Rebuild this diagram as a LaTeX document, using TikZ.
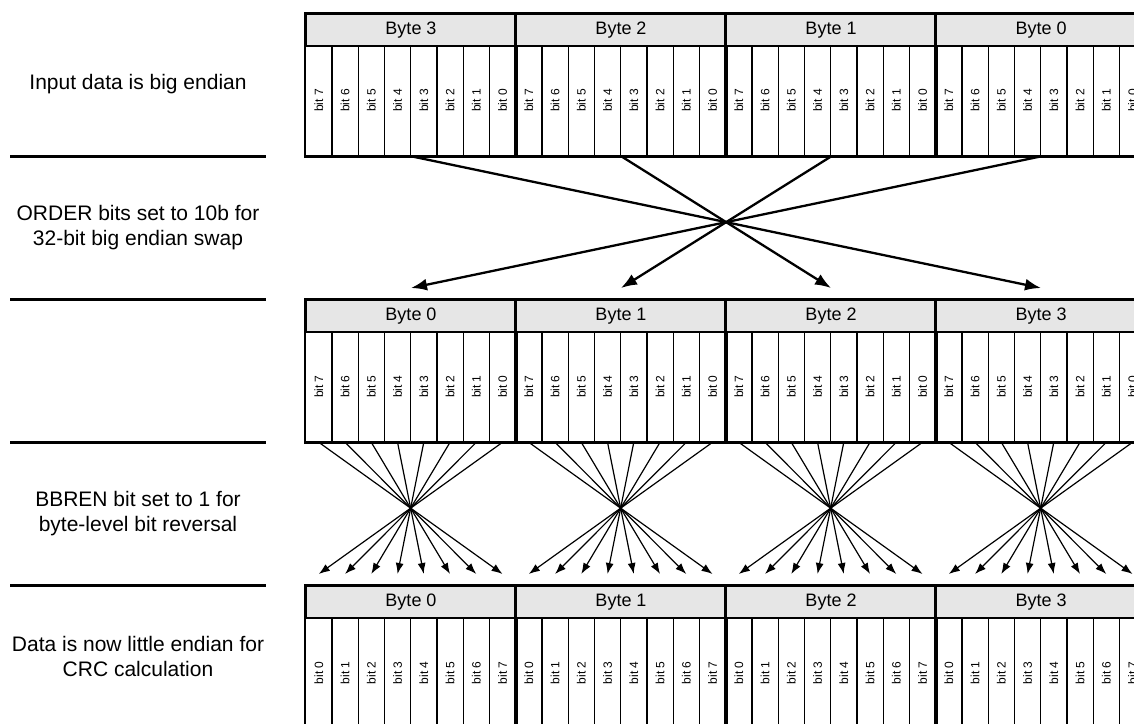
\documentclass[tikz,border=0pt]{standalone}
\usepackage{fontspec}
\setmainfont{Liberation Sans}
\usetikzlibrary{arrows.meta,calc}
\definecolor{bbhead}{HTML}{E6E6E6}
\definecolor{bbline}{HTML}{000000}
\begin{document}
\begin{tikzpicture}[
  x=1pt, y=-1pt,
  bytehead/.style={draw=bbline, fill=bbhead, line width=2pt, minimum width=210pt,
                   minimum height=32pt, inner sep=0pt, anchor=north west,
                   font=\fontsize{18}{20}\selectfont},
  bitcell/.style={draw=bbline, line width=1.3pt, minimum width=26.25pt,
                  minimum height=110pt, inner sep=0pt, anchor=north west},
  bitlab/.style={rotate=90, inner sep=0pt, font=\fontsize{12}{14}\selectfont},
  bytebox/.style={draw=bbline, line width=2.4pt},
  rowlab/.style={align=center, font=\fontsize{21}{25}\selectfont},
  sep/.style={line width=3pt},
  swap/.style={line width=2.3pt, -{Latex[length=16pt,width=12pt]}},
  fan/.style={line width=1.2pt, -{Latex[length=11pt,width=8pt]}},
]
  \useasboundingbox (0,0) rectangle (1134,723);
  \clip (0,0) rectangle (1134,723);
  \fill[white] (0,0) rectangle (1134,723);

  % ---- left column: captions and rules ---------------------------------------
  \foreach \y in {156,299,442,585}
    \draw[sep] (10,\y) -- (266,\y);
  \node[rowlab] (l1) at (138,84.5) {Input data is big endian};
  \node[rowlab] (l2) at (138,227.5) {ORDER bits set to 10b for\\32-bit big endian swap};
  \node[rowlab] (l3) at (138,513.5) {BBREN bit set to 1 for\\byte-level bit reversal};
  \node[rowlab] (l4) at (138,656.5) {Data is now little endian for\\CRC calculation};

  % ---- three registers, four bytes of eight bits -----------------------------
  \foreach \r/\ty/\flip in {1/13/1, 2/299/0, 3/585/0} {
    \foreach \p in {0,...,3} {
      \pgfmathtruncatemacro\bytenum{\flip==1 ? 3-\p : \p}
      \node[bytehead] (h\r-\p) at ({305+210*\p},\ty) {Byte \bytenum};
      \foreach \q in {0,...,7} {
        \pgfmathtruncatemacro\bitnum{\r==3 ? \q : 7-\q}
        \node[bitcell] (c\r-\p-\q) at ({305+210*\p+26.25*\q},{\ty+32}) {};
        \node[bitlab] (t\r-\p-\q) at (c\r-\p-\q.center) {bit \bitnum};
      }
      \draw[bytebox] (h\r-\p.north west) rectangle (c\r-\p-7.south east);
    }
  }

  % ---- 32-bit byte swap --------------------------------------------------------
  \coordinate (swapend) at (0,288);
  \foreach \p/\d in {0/3, 1/2, 2/1, 3/0}
    \draw[swap] (c1-\p-3.south east) -- (h2-\d.north |- swapend);

  % ---- bit reversal inside each byte -----------------------------------------
  \coordinate (fanend) at (0,574);
  \foreach \p in {0,...,3}
    \foreach \q in {0,...,7} {
      \pgfmathtruncatemacro\qq{7-\q}
      \draw[fan] (c2-\p-\q.south) -- (c3-\p-\qq.center |- fanend);
    }
\end{tikzpicture}
\end{document}
